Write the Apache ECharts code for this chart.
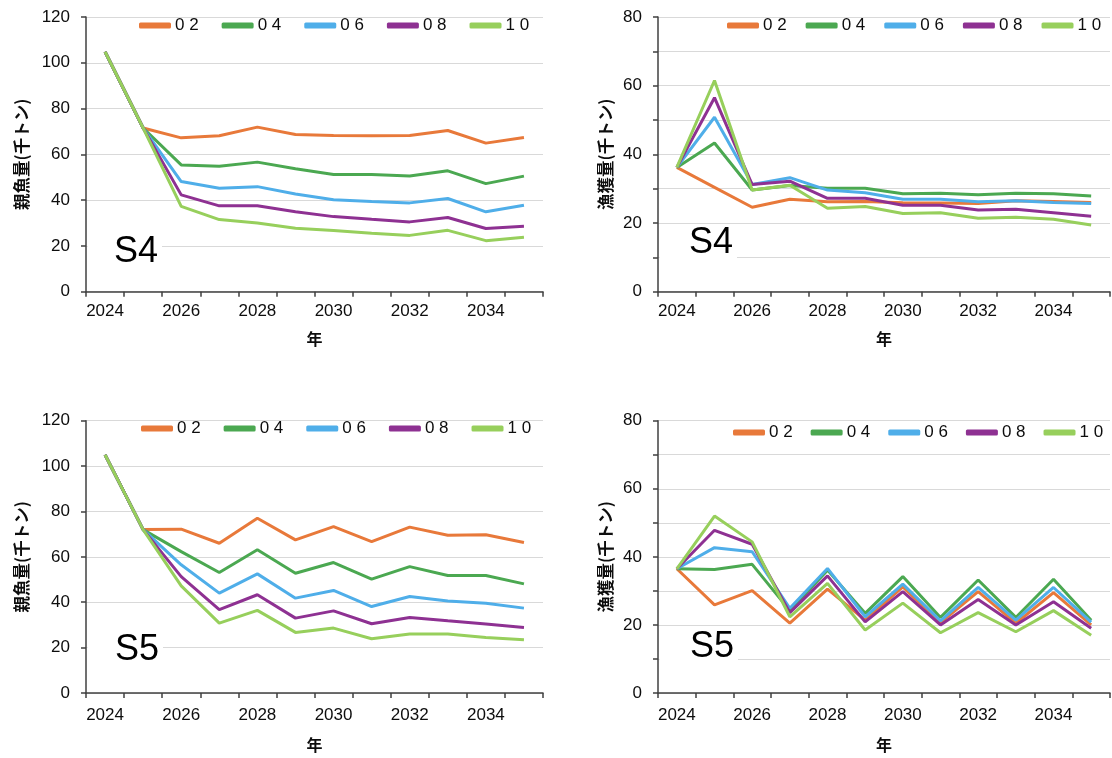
<!DOCTYPE html>
<html>
<head>
<meta charset="utf-8">
<script src="https://cdn.jsdelivr.net/npm/echarts@6/dist/echarts.min.js"></script>
<style>
  html, body { margin: 0; padding: 0; background: #ffffff; }
  #chart { width: 1112px; height: 758px; }
</style>
</head>
<body>
<div id="chart"></div>
<script>
// Projection years
const years = ['2024','2025','2026','2027','2028','2029','2030','2031','2032','2033','2034','2035'];

// Scenario keys and legend labels
const scenarios = ['02', '04', '06', '08', '10'];
const scenarioLabels = ['0 2', '0 4', '0 6', '0 8', '1 0'];
const scenarioColors = ['#E8793A', '#4BA851', '#4FAEE9', '#8E3192', '#97CF5C'];

// Spawning stock biomass (thousand tonnes), S4
const ssbS4_02 = [104.8, 71.5, 67.2, 68.1, 71.9, 68.7, 68.2, 68.1, 68.2, 70.4, 64.9, 67.4];
const ssbS4_04 = [104.8, 71.5, 55.4, 54.8, 56.6, 53.7, 51.2, 51.2, 50.5, 52.8, 47.2, 50.5];
const ssbS4_06 = [104.8, 71.5, 48.1, 45.2, 45.9, 42.7, 40.2, 39.4, 38.8, 40.7, 34.9, 37.8];
const ssbS4_08 = [104.8, 71.5, 42.3, 37.5, 37.5, 34.9, 32.8, 31.6, 30.5, 32.4, 27.6, 28.6];
const ssbS4_10 = [104.8, 71.5, 37.3, 31.5, 30.0, 27.7, 26.7, 25.5, 24.6, 26.8, 22.3, 23.8];

// Catch (thousand tonnes), S4
const catchS4_02 = [36.2, 30.4, 24.6, 26.9, 26.2, 26.3, 25.9, 25.8, 25.7, 26.5, 26.3, 26.0];
const catchS4_04 = [36.2, 43.3, 29.6, 30.9, 30.1, 30.1, 28.5, 28.7, 28.2, 28.7, 28.5, 27.9];
const catchS4_06 = [36.2, 50.8, 31.2, 33.2, 29.6, 28.8, 26.9, 26.9, 26.2, 26.5, 26.0, 25.7];
const catchS4_08 = [36.2, 56.5, 31.2, 32.2, 27.2, 27.2, 25.2, 25.2, 23.8, 24.0, 23.0, 22.0];
const catchS4_10 = [36.2, 61.5, 29.6, 31.0, 24.3, 24.8, 22.8, 23.0, 21.4, 21.7, 21.1, 19.4];

// Spawning stock biomass (thousand tonnes), S5
const ssbS5_02 = [105.0, 72.0, 72.2, 66.0, 77.0, 67.5, 73.3, 66.7, 73.1, 69.5, 69.7, 66.3];
const ssbS5_04 = [105.0, 72.0, 62.3, 53.1, 63.1, 52.8, 57.5, 50.2, 55.7, 51.8, 51.8, 48.1];
const ssbS5_06 = [105.0, 72.0, 56.5, 44.0, 52.5, 41.8, 45.2, 38.1, 42.5, 40.5, 39.6, 37.4];
const ssbS5_08 = [105.0, 72.0, 51.3, 36.7, 43.3, 33.0, 36.2, 30.5, 33.3, 31.8, 30.4, 28.9];
const ssbS5_10 = [105.0, 72.0, 47.2, 30.8, 36.4, 26.7, 28.6, 23.9, 26.0, 26.0, 24.5, 23.5];

// Catch (thousand tonnes), S5
const catchS5_02 = [36.5, 25.9, 30.1, 20.5, 30.5, 21.4, 31.2, 20.7, 29.8, 20.5, 29.5, 20.0];
const catchS5_04 = [36.5, 36.3, 37.8, 24.2, 36.1, 23.4, 34.2, 22.2, 33.2, 22.2, 33.4, 21.4];
const catchS5_06 = [36.5, 42.7, 41.5, 24.9, 36.6, 22.4, 32.0, 21.2, 31.0, 21.4, 31.0, 20.8];
const catchS5_08 = [36.5, 47.8, 43.7, 23.6, 34.4, 20.9, 29.8, 20.0, 27.5, 20.0, 26.8, 19.0];
const catchS5_10 = [36.5, 52.0, 44.4, 22.4, 32.2, 18.5, 26.4, 17.7, 23.6, 18.0, 24.2, 17.0];

// Axis ranges and titles
const ssbAxis = { min: 0, max: 120, interval: 20, labelStep: 20 };
const catchAxis = { min: 0, max: 80, interval: 10, labelStep: 20 };
const ssbTitle = '親魚量(千トン)';
const catchTitle = '漁獲量(千トン)';
const yearTitle = '年';
const panelTags = ['S4', 'S4', 'S5', 'S5'];

const panelData = [
  [ssbS4_02, ssbS4_04, ssbS4_06, ssbS4_08, ssbS4_10],
  [catchS4_02, catchS4_04, catchS4_06, catchS4_08, catchS4_10],
  [ssbS5_02, ssbS5_04, ssbS5_06, ssbS5_08, ssbS5_10],
  [catchS5_02, catchS5_04, catchS5_06, catchS5_08, catchS5_10]
];

const FONT = "'Liberation Sans', Arial, 'Noto Sans CJK JP', sans-serif";
const CJK = "'Noto Sans CJK JP', 'Liberation Sans', sans-serif";
const AXIS_COLOR = '#404040';
const TEXT_COLOR = '#0d0d0d';

// Panel layout
const panels = [
  { grid: { left: 86, top: 17, width: 457, height: 274.7 }, axis: ssbAxis, title: ssbTitle, nameGap: 56, xNameGap: 39, xLabelMargin: 11,
    legend: { left: 139, top: 17, gap: 23 }, tag: { x: 114, y: 252 } },
  { grid: { left: 658, top: 17, width: 452, height: 274.7 }, axis: catchAxis, title: catchTitle, nameGap: 44, xNameGap: 39, xLabelMargin: 11,
    legend: { left: 727, top: 17, gap: 19 }, tag: { x: 689, y: 243 } },
  { grid: { left: 86, top: 420.7, width: 457, height: 272.3 }, axis: ssbAxis, title: ssbTitle, nameGap: 56, xNameGap: 44, xLabelMargin: 14,
    legend: { left: 141, top: 420, gap: 23 }, tag: { x: 115, y: 650 } },
  { grid: { left: 658, top: 420.7, width: 452, height: 272.3 }, axis: catchAxis, title: catchTitle, nameGap: 44, xNameGap: 44, xLabelMargin: 14,
    legend: { left: 733, top: 424, gap: 18 }, tag: { x: 690, y: 647 } }
];

const grids = [], xAxes = [], yAxes = [], series = [], legends = [], graphics = [];

panels.forEach((p, i) => {
  grids.push(Object.assign({ containLabel: false }, p.grid));

  xAxes.push({
    type: 'category',
    gridIndex: i,
    data: years,
    boundaryGap: true,
    name: yearTitle,
    nameLocation: 'middle',
    nameGap: p.xNameGap,
    nameTextStyle: { fontFamily: CJK, fontSize: 16, fontWeight: 'bold', color: TEXT_COLOR },
    axisLine: { show: true, lineStyle: { color: AXIS_COLOR, width: 1.5 } },
    axisTick: { show: true, interval: 0, length: 5, alignWithLabel: false, lineStyle: { color: AXIS_COLOR, width: 1.5 } },
    axisLabel: { interval: 1, margin: p.xLabelMargin, fontFamily: FONT, fontSize: 17, color: TEXT_COLOR },
    splitLine: { show: false }
  });

  const ax = p.axis;
  yAxes.push({
    type: 'value',
    gridIndex: i,
    min: ax.min,
    max: ax.max,
    interval: ax.interval,
    name: p.title,
    nameLocation: 'middle',
    nameGap: p.nameGap,
    nameTextStyle: { fontFamily: CJK, fontSize: 16.5, fontWeight: 'bold', color: TEXT_COLOR },
    axisLine: { show: true, lineStyle: { color: AXIS_COLOR, width: 1.5 } },
    axisTick: { show: true, length: 5, lineStyle: { color: AXIS_COLOR, width: 1.5 } },
    axisLabel: {
      margin: 16, fontFamily: FONT, fontSize: 17, color: TEXT_COLOR,
      formatter: v => (v % ax.labelStep === 0 ? String(v) : '')
    },
    splitLine: { show: true, lineStyle: { color: '#d9d9d9', width: 1 } }
  });

  scenarios.forEach((key, k) => {
    series.push({
      type: 'line',
      name: key,
      xAxisIndex: i,
      yAxisIndex: i,
      data: panelData[i][k],
      showSymbol: false,
      symbol: 'none',
      z: 3,
      lineStyle: { color: scenarioColors[k], width: 3 },
      itemStyle: { color: scenarioColors[k] },
      emphasis: { disabled: true }
    });
  });

  legends.push({
    left: p.legend.left,
    top: p.legend.top,
    orient: 'horizontal',
    padding: 0,
    itemGap: p.legend.gap,
    itemWidth: 32,
    itemHeight: 6,
    icon: 'roundRect',
    data: scenarios,
    formatter: name => scenarioLabels[scenarios.indexOf(name)],
    textStyle: { fontFamily: FONT, fontSize: 17, color: TEXT_COLOR, padding: [0, 0, 0, -1] },
    selectedMode: false
  });

  // Scenario tag in a white text box, sitting over the gridlines
  const boxLeft = p.grid.left + 1.5;
  graphics.push({
    type: 'rect',
    z: 1,
    shape: { x: boxLeft, y: p.tag.y - 17, width: p.tag.x + 48 - boxLeft, height: 34 },
    style: { fill: '#ffffff' },
    silent: true
  });
  graphics.push({
    type: 'text',
    z: 2,
    x: p.tag.x,
    y: p.tag.y,
    style: {
      text: panelTags[i],
      fontFamily: FONT,
      fontSize: 36,
      fill: '#000000',
      align: 'left',
      verticalAlign: 'middle'
    },
    silent: true
  });
});

const chart = echarts.init(document.getElementById('chart'), null, { renderer: 'canvas' });
chart.setOption({
  animation: false,
  backgroundColor: '#ffffff',
  grid: grids,
  xAxis: xAxes,
  yAxis: yAxes,
  legend: legends,
  series: series,
  graphic: graphics
});
</script>
</body>
</html>
